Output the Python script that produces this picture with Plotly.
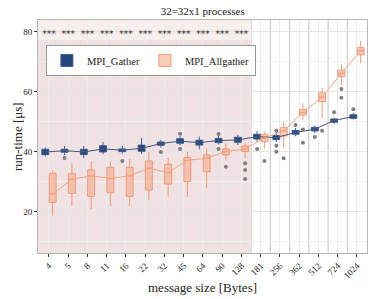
import plotly.graph_objects as go

categories = ["4", "5", "8", "11", "16", "22", "32", "45", "64", "90", "128",
              "181", "256", "362", "512", "724", "1024"]

gather_median = [40.0, 40.4, 40.0, 41.0, 40.6, 41.2, 42.8, 43.6, 43.1, 43.8, 44.0,
                 45.1, 44.8, 46.5, 47.6, 50.5, 51.8]
gather_q1 = [39.1, 39.9, 39.1, 40.0, 40.1, 40.2, 42.2, 42.9, 42.3, 43.1, 43.2,
             44.3, 44.1, 45.9, 47.0, 49.9, 51.2]
gather_q3 = [40.9, 40.9, 40.9, 42.1, 41.0, 42.3, 43.3, 44.4, 43.9, 44.5, 44.9,
             45.9, 45.5, 47.2, 48.2, 51.0, 52.4]
gather_low = [38.5, 38.9, 37.9, 39.3, 39.5, 39.3, 41.5, 42.2, 40.9, 42.5, 42.3,
              43.4, 43.3, 45.2, 46.3, 49.4, 50.8]
gather_high = [41.5, 42.0, 42.0, 43.4, 42.0, 44.6, 44.0, 45.2, 45.1, 45.5, 45.7,
               47.0, 46.5, 48.0, 48.8, 51.5, 53.0]
gather_out_idx = [1, 4, 6, 7, 7, 9, 9, 11, 12, 12, 12, 13, 14, 15, 16]
gather_out_val = [38.0, 37.0, 40.0, 46.1, 41.0, 46.0, 41.0, 41.0, 47.1, 42.1, 40.1,
                  49.0, 45.0, 53.2, 54.2]

allg_median = [26.0, 30.9, 32.0, 31.2, 32.0, 34.6, 33.1, 37.2, 37.9, 40.1, 41.0,
               44.6, 47.0, 53.2, 58.3, 66.2, 73.7]
allg_q1 = [23.2, 26.2, 25.2, 26.4, 25.2, 27.3, 29.3, 30.1, 33.4, 39.0, 40.1,
           43.4, 45.3, 52.3, 56.8, 65.1, 72.4]
allg_q3 = [32.9, 32.9, 34.0, 34.9, 34.9, 37.0, 35.9, 38.1, 39.0, 41.0, 42.0,
           45.9, 48.1, 54.2, 59.7, 67.3, 74.8]
allg_low = [18.8, 22.0, 20.9, 22.0, 22.0, 24.0, 25.1, 25.0, 27.9, 37.1, 37.9,
            41.2, 41.2, 50.7, 51.2, 62.3, 69.6]
allg_high = [33.8, 36.2, 37.0, 36.7, 37.7, 40.1, 38.0, 40.1, 41.2, 42.9, 42.9,
             46.8, 50.1, 56.2, 61.3, 69.2, 77.0]
allg_out_idx = [9, 10, 10, 10, 11, 12, 13, 13, 14, 15, 15]
allg_out_val = [35.1, 36.2, 34.0, 31.0, 37.0, 37.9, 47.5, 43.1, 47.1, 61.0, 58.1]

signif_idx = list(range(11))
signif_text = ["***"] * 11

FONT = "Liberation Serif"
DODGE = 0.19
BW = 0.36
pos = list(range(len(categories)))
gx = [p - DODGE for p in pos]
ax = [p + DODGE for p in pos]

fig = go.Figure()

fig.add_trace(go.Scatter(x=gx, y=gather_median, mode="lines",
                         line=dict(color="#44567a", width=1), showlegend=False,
                         hoverinfo="skip"))
fig.add_trace(go.Scatter(x=ax, y=allg_median, mode="lines",
                         line=dict(color="#f4a582", width=1), showlegend=False,
                         hoverinfo="skip"))

fig.add_trace(go.Box(name="MPI_Gather", x=gx, q1=gather_q1, median=gather_median,
                     q3=gather_q3, lowerfence=gather_low, upperfence=gather_high,
                     width=BW, whiskerwidth=0, fillcolor="#25457a",
                     line=dict(color="#3f5f92", width=1), boxpoints=False))
fig.add_trace(go.Box(name="MPI_Allgather", x=ax, q1=allg_q1, median=allg_median,
                     q3=allg_q3, lowerfence=allg_low, upperfence=allg_high,
                     width=BW, whiskerwidth=0, fillcolor="rgba(246,170,140,0.6)",
                     line=dict(color="#f29873", width=1), boxpoints=False))

fig.add_trace(go.Scatter(x=[i - DODGE for i in gather_out_idx], y=gather_out_val,
                         mode="markers", marker=dict(color="#7f7f7f", size=4),
                         showlegend=False, hoverinfo="skip"))
fig.add_trace(go.Scatter(x=[i + DODGE for i in allg_out_idx], y=allg_out_val,
                         mode="markers", marker=dict(color="#7f7f7f", size=4),
                         showlegend=False, hoverinfo="skip"))

fig.add_trace(go.Scatter(x=signif_idx, y=[79.2] * len(signif_idx), text=signif_text,
                         mode="text", textposition="middle center",
                         textfont=dict(family="DejaVu Serif", size=9, color="#333333"),
                         showlegend=False, hoverinfo="skip"))

YMIN, YMAX = 6.3, 84.0
shapes = [
    dict(type="rect", xref="x", yref="y", x0=-0.6, x1=10.5, y0=YMIN - 1, y1=77.3,
         fillcolor="#f0e2e2", line=dict(width=0), layer="below"),
    dict(type="rect", xref="x", yref="y", x0=-0.6, x1=10.5, y0=77.3, y1=YMAX + 1,
         fillcolor="#f7eeee", line=dict(width=0), layer="below"),
]
for i in range(len(categories) - 1):
    shapes.append(dict(type="line", xref="x", yref="paper", x0=i + 0.5, x1=i + 0.5,
                       y0=0, y1=1, line=dict(color="#cdcdcd", width=1.2),
                       layer="below"))

annotations = [
    dict(text="message size [Bytes]", xref="paper", yref="paper", x=0.5, y=-0.148,
         xanchor="center", yanchor="middle", showarrow=False,
         font=dict(family=FONT, size=13, color="#222222")),
    dict(text="run-time [μs]", xref="paper", yref="paper", x=-0.062, y=0.5,
         xanchor="center", yanchor="middle", showarrow=False, textangle=-90,
         font=dict(family=FONT, size=13, color="#222222")),
]

fig.update_layout(
    width=374, height=299,
    margin=dict(l=38, r=7, t=20, b=46),
    paper_bgcolor="white", plot_bgcolor="white",
    font=dict(family=FONT, color="#222222"),
    title=dict(text="32=32x1 processes", x=0.542, xanchor="center", y=0.975,
               yanchor="top", font=dict(family=FONT, size=11, color="#222222")),
    boxmode="overlay",
    shapes=shapes,
    annotations=annotations,
    showlegend=True,
    legend=dict(orientation="h", x=0.024, y=0.893, xanchor="left", yanchor="top",
                bgcolor="white", bordercolor="#999999", borderwidth=1,
                font=dict(family=FONT, size=10.5, color="#222222"),
                itemwidth=30, tracegroupgap=0),
)
fig.update_xaxes(
    range=[-0.57, 16.52], tickmode="array", tickvals=pos, ticktext=categories,
    tickangle=-45, tickfont=dict(family=FONT, size=9, color="#222222"),
    ticks="outside", ticklen=3, tickcolor="#333333",
    showgrid=True, gridcolor="#ededed", gridwidth=1,
    showline=True, linecolor="#b5b5b5", linewidth=1, mirror=True, zeroline=False,
)
fig.update_yaxes(
    range=[YMIN, YMAX], tickmode="array", tickvals=[20, 40, 60, 80],
    tickfont=dict(family=FONT, size=9, color="#222222"),
    ticks="outside", ticklen=3, tickcolor="#333333",
    showgrid=True, gridcolor="#e4e4e4", gridwidth=1,
    minor=dict(tickvals=[10, 30, 50, 70], showgrid=True, gridcolor="#f0f0f0"),
    showline=True, linecolor="#b5b5b5", linewidth=1, mirror=True, zeroline=False,
)

fig.write_html("out.html", config={"displayModeBar": False},
               post_script="document.body.style.margin='0';document.body.style.padding='0';")
